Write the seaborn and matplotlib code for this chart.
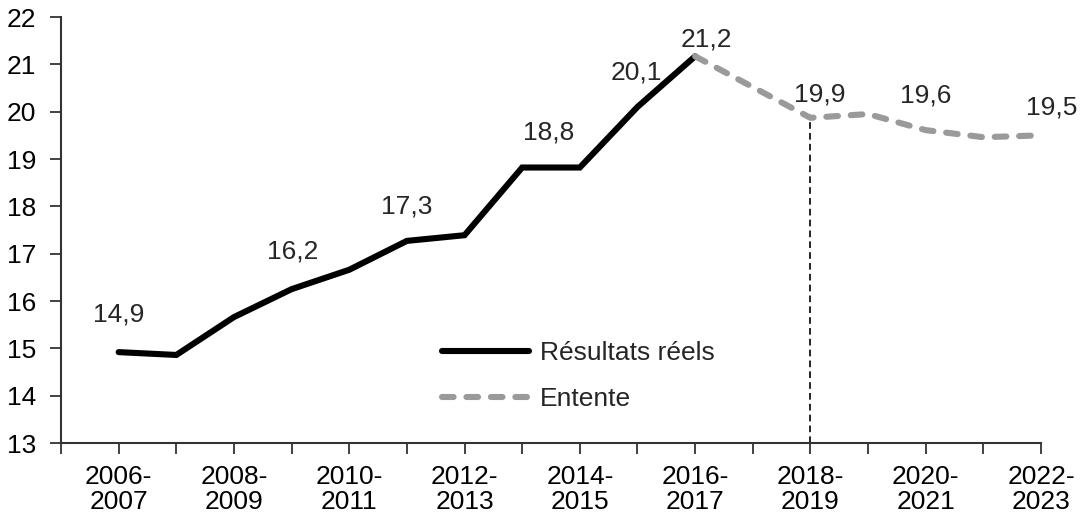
import pandas as pd
import matplotlib
matplotlib.use("Agg")
import matplotlib.pyplot as plt
import seaborn as sns

# Données
annees = [
    "2006-2007", "2007-2008", "2008-2009", "2009-2010", "2010-2011", "2011-2012",
    "2012-2013", "2013-2014", "2014-2015", "2015-2016", "2016-2017", "2017-2018",
    "2018-2019", "2019-2020", "2020-2021", "2021-2022", "2022-2023",
]
reels = [14.92, 14.86, 15.66, 16.25, 16.66, 17.27, 17.39, 18.82, 18.82, 20.10, 21.17]
entente = [21.17, 20.52, 19.87, 19.95, 19.61, 19.46, 19.50]

# étiquettes affichées (indice dans la série, texte)
etiquettes_reels = [(0, "14,9"), (3, "16,2"), (5, "17,3"), (7, "18,8"), (9, "20,1"), (10, "21,2")]
etiquettes_entente = [(2, "19,9"), (4, "19,6"), (6, "19,5")]

df_reels = pd.DataFrame({"pos": range(len(reels)), "val": reels})
debut = len(reels) - 1
df_entente = pd.DataFrame({"pos": range(debut, debut + len(entente)), "val": entente})

sns.set_style("ticks")
plt.rcParams["font.family"] = ["Liberation Sans", "DejaVu Sans"]
taille = 19

fig = plt.figure(figsize=(10.84, 5.19), dpi=100)
ax = fig.add_axes([61 / 1084, 1 - 443 / 519, (1041 - 61) / 1084, (443 - 17) / 519])

gris = "#9a9a9a"
sns.lineplot(data=df_reels, x="pos", y="val", ax=ax, color="black", linewidth=4.4,
             label="Résultats réels", solid_capstyle="round", solid_joinstyle="miter")
sns.lineplot(data=df_entente, x="pos", y="val", ax=ax, color=gris, linewidth=4.4,
             label="Entente", dash_capstyle="round")
ax.lines[1].set_dashes([1.9, 2.1])

# ligne verticale pointillée en 2018-2019
pos_2018 = annees.index("2018-2019")
ax.vlines(pos_2018, 13, entente[pos_2018 - debut], colors="black",
          linestyles=(0, (4, 2.5)), linewidth=1.2, zorder=1)

# étiquettes de données (décalages en points)
decalages_reels = {0: (0, 27), 3: (1, 27), 5: (0, 25), 7: (19, 25), 9: (-1, 25), 10: (8, 12)}
decalages_entente = {2: (7, 17), 4: (0, 25), 6: (8, 20)}
for i, txt in etiquettes_reels:
    ax.annotate(txt, (i, reels[i]), xytext=decalages_reels[i], textcoords="offset points",
                ha="center", va="center", fontsize=taille)
for i, txt in etiquettes_entente:
    ax.annotate(txt, (debut + i, entente[i]), xytext=decalages_entente[i],
                textcoords="offset points", ha="center", va="center", fontsize=taille)

# axes
ax.set_xlim(-1, len(annees) - 1)
ax.set_ylim(13, 22)
ax.set_yticks(range(13, 23))
ax.set_xticks(range(-1, len(annees)))
libelles = [""]
for i, a in enumerate(annees):
    libelles.append(a.replace("-", "-\n") if i % 2 == 0 else "")
ax.set_xticklabels(libelles, fontsize=taille, linespacing=1.02)
ax.tick_params(axis="y", labelsize=taille, length=8, width=1.3, pad=10, colors="#333333", labelcolor="black")
ax.tick_params(axis="x", length=8, width=1.3, pad=8, colors="#333333", labelcolor="black")
for s in ["left", "bottom"]:
    ax.spines[s].set_linewidth(1.5)
    ax.spines[s].set_color("#333333")
sns.despine(ax=ax)
ax.set_xlabel("")
ax.set_ylabel("")

ax.legend(loc="upper left", bbox_to_anchor=(0.389, 0.24), frameon=False, fontsize=taille,
          handlelength=3.3, handletextpad=0.4, labelspacing=0.85, borderpad=0, borderaxespad=0)

fig.savefig("out.png", dpi=100)
